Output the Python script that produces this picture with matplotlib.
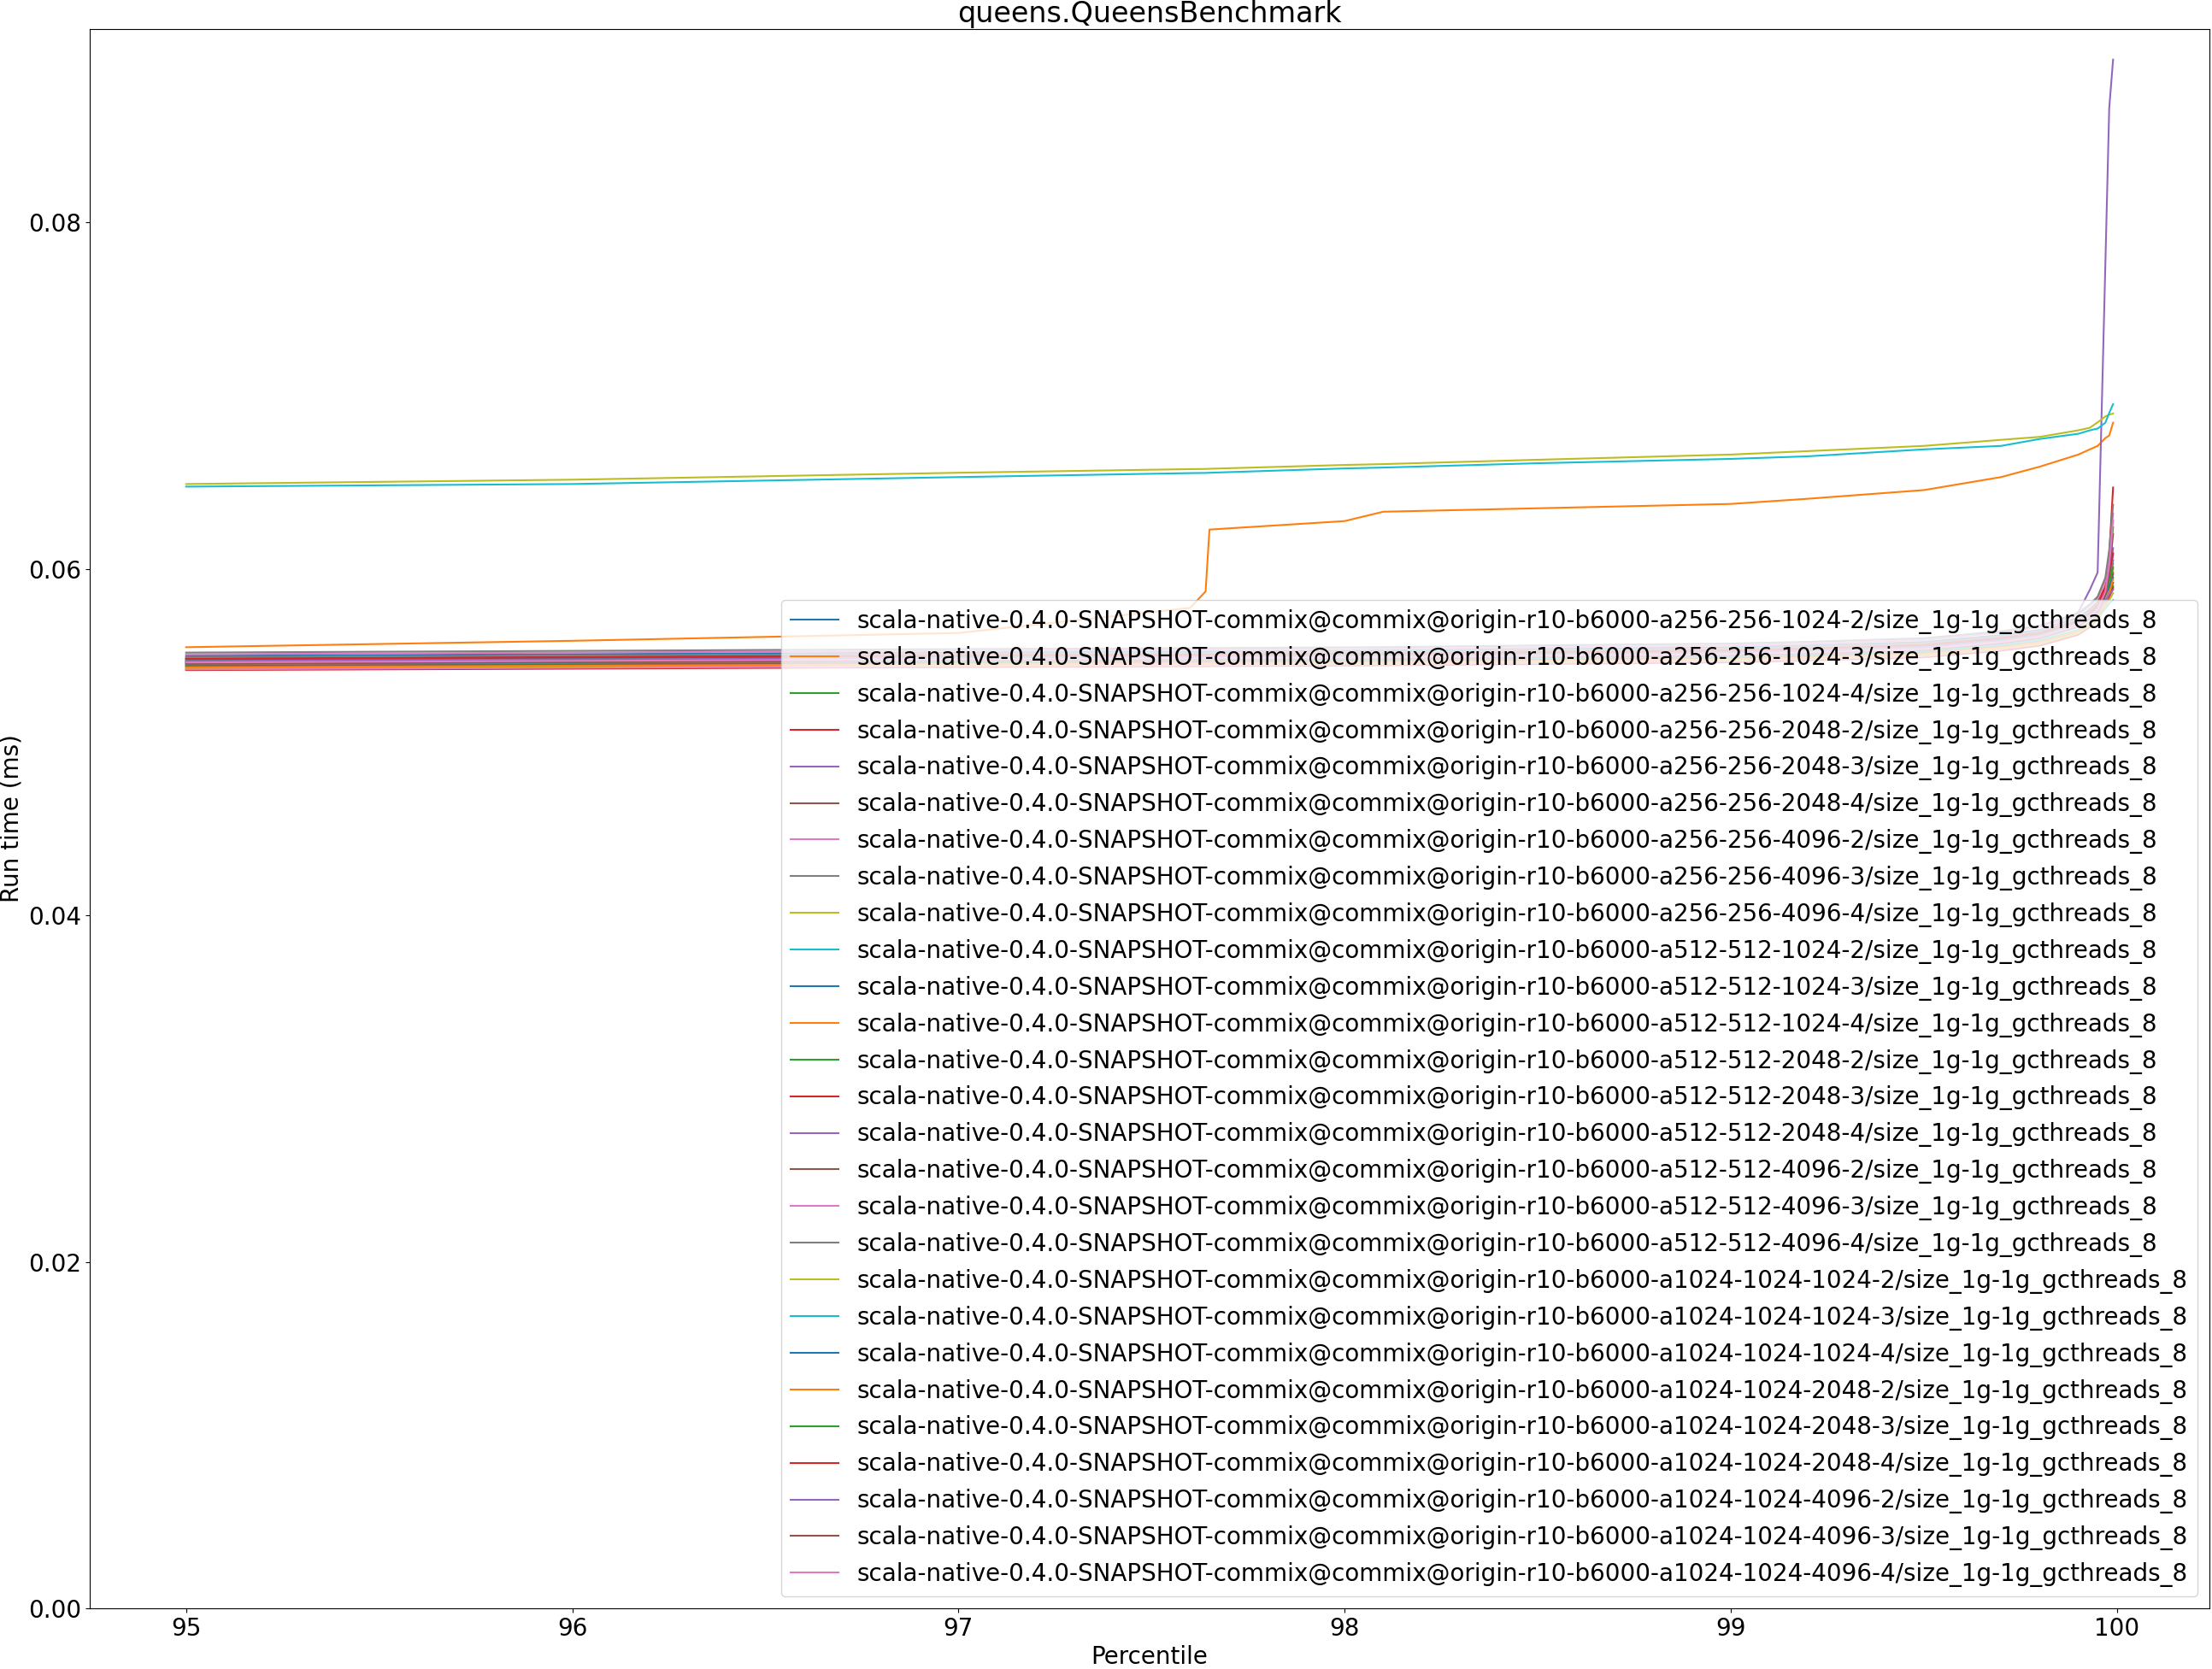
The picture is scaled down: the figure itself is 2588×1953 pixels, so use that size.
import matplotlib
matplotlib.use("Agg")
import matplotlib.pyplot as plt

# percentile grid shared by all series
percentiles = [95.0, 96.0, 97.0, 97.6, 97.64, 97.65, 98.0, 98.1, 98.5, 99.0,
               99.2, 99.5, 99.7, 99.8, 99.9, 99.93, 99.95, 99.97, 99.98, 99.99]

configs = [
    "a256-256-1024-2", "a256-256-1024-3", "a256-256-1024-4",
    "a256-256-2048-2", "a256-256-2048-3", "a256-256-2048-4",
    "a256-256-4096-2", "a256-256-4096-3", "a256-256-4096-4",
    "a512-512-1024-2", "a512-512-1024-3", "a512-512-1024-4",
    "a512-512-2048-2", "a512-512-2048-3", "a512-512-2048-4",
    "a512-512-4096-2", "a512-512-4096-3", "a512-512-4096-4",
    "a1024-1024-1024-2", "a1024-1024-1024-3", "a1024-1024-1024-4",
    "a1024-1024-2048-2", "a1024-1024-2048-3", "a1024-1024-2048-4",
    "a1024-1024-4096-2", "a1024-1024-4096-3", "a1024-1024-4096-4",
]

# run time (ms) per config, same order as configs
run_times = [
    [0.05498, 0.05508, 0.05518, 0.05523, 0.05523, 0.05523, 0.05528, 0.05529, 0.05538, 0.05548,
     0.05558, 0.05578, 0.05618, 0.05648, 0.05718, 0.05768, 0.05808, 0.05878, 0.05960, 0.06050],
    [0.05548, 0.05585, 0.05630, 0.05775, 0.05870, 0.06227, 0.06276, 0.06330, 0.06350, 0.06375,
     0.06405, 0.06455, 0.06530, 0.06590, 0.06660, 0.06690, 0.06710, 0.06755, 0.06770, 0.06844],
    [0.05470, 0.05481, 0.05492, 0.05496, 0.05496, 0.05497, 0.05501, 0.05502, 0.05511, 0.05522,
     0.05531, 0.05551, 0.05593, 0.05622, 0.05694, 0.05745, 0.05790, 0.05880, 0.06010, 0.06240],
    [0.05485, 0.05494, 0.05504, 0.05509, 0.05509, 0.05510, 0.05514, 0.05515, 0.05524, 0.05535,
     0.05545, 0.05566, 0.05606, 0.05636, 0.05706, 0.05760, 0.05805, 0.05900, 0.06080, 0.06470],
    [0.05465, 0.05474, 0.05484, 0.05489, 0.05489, 0.05490, 0.05494, 0.05495, 0.05504, 0.05515,
     0.05527, 0.05548, 0.05592, 0.05630, 0.05750, 0.05880, 0.05980, 0.07760, 0.08660, 0.08940],
    [0.05437, 0.05446, 0.05455, 0.05460, 0.05460, 0.05461, 0.05465, 0.05466, 0.05474, 0.05484,
     0.05494, 0.05514, 0.05552, 0.05580, 0.05640, 0.05685, 0.05720, 0.05790, 0.05850, 0.05920],
    [0.05507, 0.05517, 0.05527, 0.05532, 0.05532, 0.05533, 0.05537, 0.05538, 0.05547, 0.05558,
     0.05568, 0.05590, 0.05632, 0.05664, 0.05735, 0.05787, 0.05830, 0.05930, 0.06080, 0.06320],
    [0.05517, 0.05527, 0.05537, 0.05542, 0.05542, 0.05543, 0.05547, 0.05548, 0.05558, 0.05569,
     0.05579, 0.05600, 0.05640, 0.05672, 0.05745, 0.05796, 0.05840, 0.05950, 0.06110, 0.06370],
    [0.06490, 0.06515, 0.06555, 0.06576, 0.06577, 0.06578, 0.06600, 0.06605, 0.06630, 0.06660,
     0.06680, 0.06710, 0.06745, 0.06762, 0.06800, 0.06815, 0.06846, 0.06880, 0.06890, 0.06897],
    [0.06475, 0.06490, 0.06530, 0.06553, 0.06554, 0.06555, 0.06580, 0.06585, 0.06610, 0.06635,
     0.06650, 0.06690, 0.06710, 0.06750, 0.06780, 0.06800, 0.06810, 0.06844, 0.06900, 0.06951],
    [0.05455, 0.05464, 0.05473, 0.05478, 0.05478, 0.05479, 0.05483, 0.05484, 0.05493, 0.05503,
     0.05513, 0.05533, 0.05572, 0.05601, 0.05665, 0.05712, 0.05752, 0.05830, 0.05900, 0.05980],
    [0.05425, 0.05434, 0.05443, 0.05448, 0.05448, 0.05449, 0.05453, 0.05454, 0.05462, 0.05472,
     0.05482, 0.05502, 0.05540, 0.05569, 0.05633, 0.05681, 0.05722, 0.05810, 0.05890, 0.06000],
    [0.05445, 0.05454, 0.05463, 0.05467, 0.05467, 0.05468, 0.05472, 0.05473, 0.05481, 0.05491,
     0.05501, 0.05520, 0.05558, 0.05586, 0.05648, 0.05692, 0.05730, 0.05800, 0.05850, 0.05900],
    [0.05416, 0.05424, 0.05433, 0.05438, 0.05438, 0.05439, 0.05442, 0.05443, 0.05451, 0.05461,
     0.05471, 0.05490, 0.05528, 0.05557, 0.05620, 0.05665, 0.05705, 0.05780, 0.05835, 0.05890],
    [0.05460, 0.05469, 0.05478, 0.05483, 0.05483, 0.05484, 0.05488, 0.05489, 0.05498, 0.05508,
     0.05518, 0.05538, 0.05578, 0.05608, 0.05675, 0.05724, 0.05765, 0.05850, 0.05950, 0.06120],
    [0.05440, 0.05449, 0.05458, 0.05462, 0.05462, 0.05463, 0.05467, 0.05468, 0.05476, 0.05486,
     0.05496, 0.05516, 0.05554, 0.05583, 0.05646, 0.05692, 0.05732, 0.05810, 0.05880, 0.05970],
    [0.05420, 0.05429, 0.05438, 0.05443, 0.05443, 0.05444, 0.05448, 0.05449, 0.05457, 0.05467,
     0.05477, 0.05497, 0.05536, 0.05566, 0.05632, 0.05681, 0.05723, 0.05810, 0.05920, 0.06080],
    [0.05490, 0.05500, 0.05510, 0.05515, 0.05515, 0.05516, 0.05520, 0.05521, 0.05530, 0.05540,
     0.05550, 0.05571, 0.05611, 0.05641, 0.05710, 0.05758, 0.05800, 0.05870, 0.05950, 0.06030],
    [0.05429, 0.05438, 0.05447, 0.05451, 0.05451, 0.05452, 0.05456, 0.05457, 0.05465, 0.05475,
     0.05485, 0.05504, 0.05541, 0.05569, 0.05630, 0.05674, 0.05712, 0.05780, 0.05820, 0.05860],
    [0.05450, 0.05459, 0.05468, 0.05472, 0.05472, 0.05473, 0.05477, 0.05478, 0.05486, 0.05496,
     0.05506, 0.05525, 0.05562, 0.05589, 0.05648, 0.05690, 0.05724, 0.05770, 0.05800, 0.05820],
    [0.05478, 0.05487, 0.05497, 0.05502, 0.05502, 0.05503, 0.05507, 0.05508, 0.05517, 0.05527,
     0.05537, 0.05557, 0.05596, 0.05626, 0.05692, 0.05739, 0.05778, 0.05850, 0.05900, 0.05950],
    [0.05432, 0.05441, 0.05450, 0.05455, 0.05455, 0.05456, 0.05460, 0.05461, 0.05469, 0.05479,
     0.05489, 0.05509, 0.05547, 0.05576, 0.05640, 0.05686, 0.05725, 0.05800, 0.05860, 0.05940],
    [0.05462, 0.05471, 0.05480, 0.05485, 0.05485, 0.05486, 0.05490, 0.05491, 0.05500, 0.05510,
     0.05520, 0.05540, 0.05580, 0.05610, 0.05676, 0.05724, 0.05765, 0.05850, 0.05930, 0.06010],
    [0.05480, 0.05489, 0.05499, 0.05504, 0.05504, 0.05505, 0.05509, 0.05510, 0.05519, 0.05529,
     0.05539, 0.05560, 0.05600, 0.05630, 0.05698, 0.05747, 0.05790, 0.05880, 0.05970, 0.06090],
    [0.05468, 0.05477, 0.05486, 0.05491, 0.05491, 0.05492, 0.05496, 0.05497, 0.05506, 0.05516,
     0.05526, 0.05546, 0.05585, 0.05614, 0.05679, 0.05726, 0.05765, 0.05820, 0.05850, 0.05880],
    [0.05452, 0.05461, 0.05470, 0.05475, 0.05475, 0.05476, 0.05480, 0.05481, 0.05490, 0.05500,
     0.05510, 0.05530, 0.05570, 0.05600, 0.05666, 0.05715, 0.05757, 0.05850, 0.05980, 0.06200],
    [0.05460, 0.05469, 0.05478, 0.05483, 0.05483, 0.05484, 0.05488, 0.05489, 0.05498, 0.05508,
     0.05518, 0.05538, 0.05578, 0.05608, 0.05675, 0.05724, 0.05766, 0.05870, 0.06020, 0.06280],
]

label_prefix = "scala-native-0.4.0-SNAPSHOT-commix@commix@origin-r10-b6000-"
label_suffix = "/size_1g-1g_gcthreads_8"

plt.rcParams["font.size"] = 20

w_pix, h_pix = 2588, 1953
dpi = 100
fig = plt.figure(figsize=(w_pix / dpi, h_pix / dpi), dpi=dpi)

# axes box in pixels: left 105, right 2585, top 34, bottom 1882
ax = fig.add_axes([105 / w_pix, (h_pix - 1882) / h_pix, 2480 / w_pix, 1848 / h_pix])

for cfg, vals in zip(configs, run_times):
    ax.plot(percentiles, vals, label=label_prefix + cfg + label_suffix)

ax.set_ylim(bottom=0)
ax.set_title("queens.QueensBenchmark")
ax.set_xlabel("Percentile")
ax.set_ylabel("Run time (ms)")
ax.legend(loc="lower right")

fig.savefig("out.png", dpi=dpi)
